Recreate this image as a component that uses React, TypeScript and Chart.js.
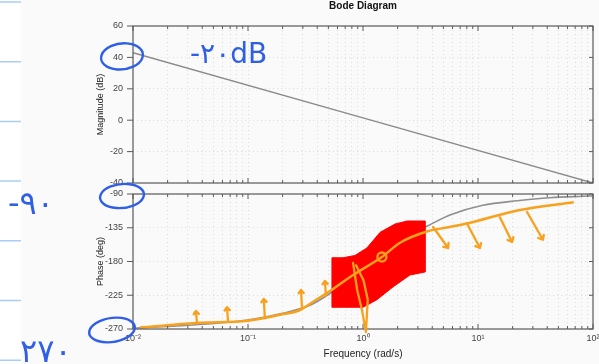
import React, { useEffect, useRef } from "react";
import { Chart, registerables } from "chart.js";

Chart.register(...registerables);

// ---------- data ----------
const decadeTicks = [0.01, 0.1, 1, 10, 100];
const decadeLabels = ["10⁻²", "10⁻¹", "10⁰", "10¹", "10²"];
const magTicks = [-40, -20, 0, 20, 40, 60];
const phaseTicks = [-270, -225, -180, -135, -90];

const magFreq = [0.01, 1, 100];
const magDb = [43, 1.5, -40];

const phaseFreq = [0.01, 0.03, 0.1, 0.2, 0.35, 0.5, 0.7, 1, 1.5, 2, 3, 3.6, 5.7, 11, 22, 42, 82, 100];
const phaseDeg = [-269, -265, -258, -249, -238, -224, -208, -188, -168, -155, -139, -133, -118, -105, -99, -95, -93, -92.5];

// hand-drawn orange sketch over the phase plot
const sketchFreq = [0.0115, 0.036, 0.1, 0.19, 0.28, 0.4, 0.52, 0.82, 1.46, 2.1, 3.6, 5.7, 8.2, 22, 68];
const sketchDeg = [-268, -262, -259, -251, -245, -230, -219, -198, -174, -155, -140, -134, -129, -112, -101];

// red highlighted zone
const zoneFreq = [0.537, 0.67, 0.85, 1.08, 1.41, 1.9, 2.42, 3.46, 3.46, 2.56, 1.82, 1.32, 1.0, 0.537, 0.537];
const zoneDeg = [-175, -175, -172, -162, -141, -130, -126, -126, -194, -198, -214, -231, -241, -241, -175];

// small orange arrows
const upArrowFreq = [0.036, 0.067, 0.14, 0.295, 0.476];
const upArrowBase = [-262, -259, -254, -243, -226];
const upArrowTip = [-246, -241, -230, -218, -206];
const downArrowFreqStart = [4.07, 8.0, 15.5, 26.7];
const downArrowFreqEnd = [5.5, 10.4, 19.8, 36.7];
const downArrowStart = [-134, -129, -121, -114];
const downArrowEnd = [-162, -162, -154, -151];
// vertical orange mark at w ~ 1
const markFreq = [0.82, 0.89, 0.98, 1.06, 1.1, 1.01, 0.87];
const markDeg = [-182, -218, -245, -274, -231, -205, -185];
const dotFreq = 1.46;
const dotDeg = -174;

// blue handwritten notes
const noteMag = "-۲۰dB";
const noteNinety = "-۹۰";
const noteTwoSeventy = "۲۷۰";

// ---------- style ----------
const FONT = "'Liberation Sans', Arial, sans-serif";
const W = 599;
const H = 364;
const BLUE = "#2f5fe6";
const ORANGE = "#f8a11d";
const GRID = "rgba(0,0,0,0.11)";

const minorTicks: number[] = [];
for (let i = 0; i < decadeTicks.length - 1; i++) {
  for (let k = 1; k <= 9; k++) minorTicks.push(decadeTicks[i] * k);
}
minorTicks.push(decadeTicks[decadeTicks.length - 1]);

const isDecade = (v: number) => decadeTicks.some((d) => Math.abs(v / d - 1) < 1e-6);
const labelFor = (v: number) => {
  const i = decadeTicks.findIndex((d) => Math.abs(v / d - 1) < 1e-6);
  return i >= 0 ? decadeLabels[i] : "";
};

const pts = (xs: number[], ys: number[]) => xs.map((x, i) => ({ x, y: ys[i] }));

const xScale = (showLabels: boolean) => ({
  type: "logarithmic",
  min: 0.01,
  max: 100,
  afterBuildTicks: (s: any) => {
    s.ticks = minorTicks.map((v) => ({ value: v, major: isDecade(v) }));
  },
  ticks: {
    display: showLabels,
    autoSkip: false,
    maxRotation: 0,
    minRotation: 0,
    padding: 4,
    color: "#444",
    font: { family: FONT, size: 9 },
    callback: (v: any) => labelFor(Number(v)),
  },
  grid: { drawTicks: false, color: GRID, lineWidth: 1 },
  border: { display: false, dash: [1, 3] },
  title: showLabels
    ? { display: true, text: "Frequency (rad/s)", color: "#222", font: { family: FONT, size: 10 }, padding: { top: 0, bottom: 4 } }
    : { display: false },
  afterFit: (s: any) => {
    s.height = showLabels ? 35 : 0;
    s.paddingLeft = 0;
    s.paddingRight = 0;
  },
});

const yScale = (min: number, max: number, ticks: number[], title: string) => ({
  min,
  max,
  afterBuildTicks: (s: any) => {
    s.ticks = ticks.map((v) => ({ value: v }));
  },
  ticks: { padding: 10, color: "#444", font: { family: FONT, size: 9 } },
  grid: { drawTicks: false, color: GRID, lineWidth: 1 },
  border: { display: false, dash: [1, 3] },
  title: { display: true, text: title, color: "#222", font: { family: FONT, size: 9 }, padding: { top: 95, bottom: 0 } },
  afterFit: (s: any) => {
    s.width = 133;
  },
});

const framePlugin = {
  id: "frame",
  afterDraw(chart: any) {
    const { ctx, chartArea: a, scales } = chart;
    ctx.save();
    ctx.strokeStyle = "#5a5a5a";
    ctx.lineWidth = 1.2;
    ctx.strokeRect(a.left, a.top, a.right - a.left, a.bottom - a.top);
    ctx.lineWidth = 1;
    ctx.beginPath();
    for (const t of scales.x.ticks) {
      const px = scales.x.getPixelForValue(t.value);
      const len = t.major ? 5 : 3;
      ctx.moveTo(px, a.top);
      ctx.lineTo(px, a.top + len);
      ctx.moveTo(px, a.bottom);
      ctx.lineTo(px, a.bottom - len);
    }
    for (const t of scales.y.ticks) {
      const py = scales.y.getPixelForValue(t.value);
      ctx.moveTo(a.left - 6, py);
      ctx.lineTo(a.left, py);
      ctx.moveTo(a.right, py);
      ctx.lineTo(a.right - 4, py);
    }
    ctx.stroke();
    ctx.restore();
  },
};

function drawArrow(ctx: CanvasRenderingContext2D, x1: number, y1: number, x2: number, y2: number, head = 4) {
  const ang = Math.atan2(y2 - y1, x2 - x1);
  ctx.beginPath();
  ctx.moveTo(x1, y1);
  ctx.lineTo(x2, y2);
  ctx.moveTo(x2 - head * Math.cos(ang - 0.7), y2 - head * Math.sin(ang - 0.7));
  ctx.lineTo(x2, y2);
  ctx.lineTo(x2 - head * Math.cos(ang + 0.7), y2 - head * Math.sin(ang + 0.7));
  ctx.stroke();
}

function handEllipse(ctx: CanvasRenderingContext2D, cx: number, cy: number, rx: number, ry: number, rot: number) {
  ctx.beginPath();
  ctx.ellipse(cx, cy, rx, ry, rot, 0.3, 0.3 + Math.PI * 2 + 0.5);
  ctx.stroke();
}

const magNotes = {
  id: "magNotes",
  afterDraw(chart: any) {
    const { ctx, chartArea: a, scales } = chart;
    ctx.save();
    ctx.fillStyle = "#111";
    ctx.font = `bold 10px ${FONT}`;
    ctx.textAlign = "center";
    ctx.textBaseline = "middle";
    ctx.fillText("Bode Diagram", (a.left + a.right) / 2, 6);
    ctx.strokeStyle = BLUE;
    ctx.lineWidth = 2.4;
    ctx.lineCap = "round";
    handEllipse(ctx, a.left - 11, scales.y.getPixelForValue(40) - 1, 21, 13, -0.12);
    ctx.fillStyle = BLUE;
    ctx.font = `28px 'DejaVu Sans', sans-serif`;
    ctx.textAlign = "left";
    ctx.textBaseline = "alphabetic";
    ctx.fillText(noteMag, 190, 63);
    ctx.restore();
  },
};

const phaseNotes = {
  id: "phaseNotes",
  afterDraw(chart: any) {
    const { ctx, chartArea: a, scales } = chart;
    const X = (f: number) => scales.x.getPixelForValue(f);
    const Y = (d: number) => scales.y.getPixelForValue(d);
    ctx.save();
    // notebook rules on the left
    ctx.strokeStyle = "#a8cff3";
    ctx.lineWidth = 1.5;
    ctx.beginPath();
    for (let k = 0; k < 7; k++) {
      const yy = 2 + k * 59.7;
      ctx.moveTo(0, yy);
      ctx.lineTo(21, yy);
    }
    ctx.stroke();

    // blue circles & notes
    ctx.strokeStyle = BLUE;
    ctx.lineWidth = 2.4;
    ctx.lineCap = "round";
    handEllipse(ctx, a.left - 11, Y(-90) + 2, 22, 12, -0.1);
    handEllipse(ctx, a.left - 21, Y(-270) + 1, 23, 12, -0.15);
    ctx.fillStyle = BLUE;
    ctx.font = `32px 'DejaVu Sans', sans-serif`;
    ctx.textAlign = "left";
    ctx.textBaseline = "alphabetic";
    ctx.fillText(noteNinety, 8, 214);
    ctx.fillText(noteTwoSeventy, 20, 362);

    // orange marks
    ctx.strokeStyle = ORANGE;
    ctx.lineWidth = 2.3;
    ctx.lineJoin = "round";
    for (let i = 0; i < upArrowFreq.length; i++) {
      drawArrow(ctx, X(upArrowFreq[i]), Y(upArrowBase[i]), X(upArrowFreq[i]) - 1, Y(upArrowTip[i]), 4);
    }
    for (let i = 0; i < downArrowFreqStart.length; i++) {
      drawArrow(ctx, X(downArrowFreqStart[i]), Y(downArrowStart[i]), X(downArrowFreqEnd[i]), Y(downArrowEnd[i]), 5);
    }
    ctx.beginPath();
    markFreq.forEach((f, i) => {
      if (i === 0) ctx.moveTo(X(f), Y(markDeg[i]));
      else ctx.lineTo(X(f), Y(markDeg[i]));
    });
    ctx.stroke();
    ctx.beginPath();
    ctx.arc(X(dotFreq), Y(dotDeg), 4.5, 0, Math.PI * 2);
    ctx.stroke();
    ctx.restore();
  },
};

export default function App() {
  const magRef = useRef<HTMLCanvasElement>(null);
  const phaseRef = useRef<HTMLCanvasElement>(null);

  useEffect(() => {
    const common = {
      animation: false,
      responsive: false,
      maintainAspectRatio: false,
      events: [],
      plugins: { legend: { display: false }, tooltip: { enabled: false } },
    };
    const mag = new Chart(magRef.current as HTMLCanvasElement, {
      type: "scatter",
      data: {
        datasets: [
          {
            data: pts(magFreq, magDb),
            showLine: true,
            borderColor: "#8a8a8a",
            borderWidth: 1.4,
            pointRadius: 0,
          },
        ],
      },
      options: {
        ...common,
        layout: { padding: { left: 0, right: 6, top: 26, bottom: 181 } },
        scales: {
          x: xScale(false),
          y: yScale(-40, 60, magTicks, "Magnitude (dB)"),
        },
      } as any,
      plugins: [framePlugin, magNotes],
    });

    const phase = new Chart(phaseRef.current as HTMLCanvasElement, {
      type: "scatter",
      data: {
        datasets: [
          {
            data: pts(sketchFreq, sketchDeg),
            showLine: true,
            borderColor: ORANGE,
            borderWidth: 2.5,
            pointRadius: 0,
            cubicInterpolationMode: "monotone",
            order: 0,
          },
          {
            data: pts(zoneFreq, zoneDeg),
            showLine: true,
            borderColor: "#ff0000",
            backgroundColor: "#ff0000",
            borderWidth: 1,
            pointRadius: 0,
            fill: "shape",
            order: 1,
          },
          {
            data: pts(phaseFreq, phaseDeg),
            showLine: true,
            borderColor: "#8f8f8f",
            borderWidth: 1.6,
            pointRadius: 0,
            cubicInterpolationMode: "monotone",
            order: 2,
          },
        ],
      },
      options: {
        ...common,
        layout: { padding: { left: 0, right: 6, top: 194, bottom: 0 } },
        scales: {
          x: xScale(true),
          y: yScale(-270, -90, phaseTicks, "Phase (deg)"),
        },
      } as any,
      plugins: [framePlugin, phaseNotes],
    });

    return () => {
      mag.destroy();
      phase.destroy();
    };
  }, []);

  const cv: React.CSSProperties = { position: "absolute", left: 0, top: 0, width: W, height: H };
  return (
    <div style={{ position: "fixed", left: 0, top: 0, width: W, height: H, background: "#fafafa", overflow: "hidden" }}>
      <div style={{ position: "absolute", left: 0, top: 0, width: 21, height: H, background: "#ffffff" }} />
      <canvas ref={magRef} width={W} height={H} style={cv} />
      <canvas ref={phaseRef} width={W} height={H} style={cv} />
    </div>
  );
}
